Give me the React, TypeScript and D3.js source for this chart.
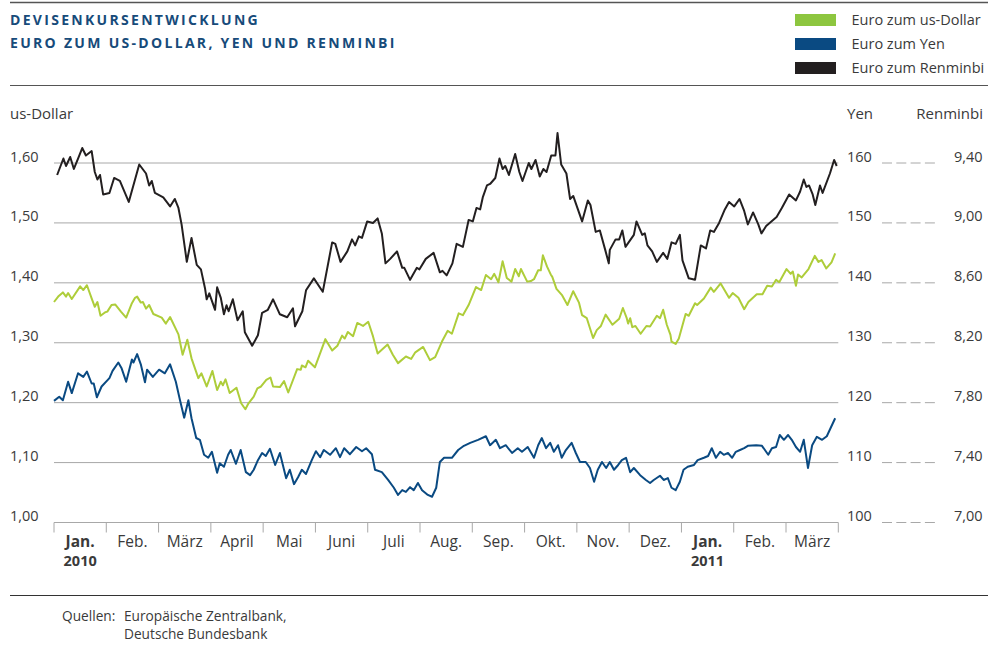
import React from "react";
import * as d3 from "d3";

// time axis: months since 1 Jan 2010 (equal-width months)
const monthLabels = ["Jan.", "Feb.", "März", "April", "Mai", "Juni", "Juli", "Aug.", "Sep.", "Okt.", "Nov.", "Dez.", "Jan.", "Feb.", "März"];
const yearLabels: [number, string][] = [[0, "2010"], [12, "2011"]];

const usdTicks = [1.0, 1.1, 1.2, 1.3, 1.4, 1.5, 1.6];
const yenTicks = [100, 110, 120, 130, 140, 150, 160];
const cnyTicks = [7.0, 7.4, 7.8, 8.2, 8.6, 9.0, 9.4];

const legendItems = ["Euro zum us-Dollar", "Euro zum Yen", "Euro zum Renminbi"];

// Euro zum US-Dollar [month, value]
const usdSeries: [number, number][] = [
  [0.0, 1.368], [0.08, 1.377], [0.17, 1.384], [0.23, 1.377], [0.27, 1.383], [0.34, 1.373], [0.5, 1.394], [0.56, 1.388], [0.63, 1.396], [0.72, 1.374],
  [0.78, 1.36], [0.83, 1.368], [0.89, 1.345], [0.98, 1.351], [1.02, 1.352], [1.1, 1.363], [1.17, 1.364], [1.28, 1.352], [1.38, 1.342], [1.49, 1.366],
  [1.55, 1.375], [1.59, 1.377], [1.66, 1.367], [1.7, 1.368], [1.76, 1.357], [1.82, 1.363], [1.9, 1.348], [2.06, 1.342], [2.14, 1.332], [2.22, 1.343],
  [2.38, 1.314], [2.46, 1.28], [2.55, 1.305], [2.63, 1.274], [2.76, 1.241], [2.82, 1.249], [2.92, 1.227], [3.03, 1.253], [3.08, 1.235], [3.12, 1.221],
  [3.19, 1.235], [3.23, 1.229], [3.28, 1.239], [3.36, 1.216], [3.49, 1.225], [3.58, 1.199], [3.66, 1.189], [3.72, 1.199], [3.82, 1.21], [3.89, 1.224],
  [3.96, 1.227], [4.06, 1.238], [4.14, 1.242], [4.19, 1.227], [4.32, 1.226], [4.4, 1.236], [4.48, 1.217], [4.65, 1.256], [4.72, 1.255], [4.74, 1.262],
  [4.81, 1.259], [4.86, 1.27], [4.99, 1.259], [5.19, 1.306], [5.32, 1.287], [5.42, 1.295], [5.51, 1.312], [5.56, 1.307], [5.62, 1.318], [5.72, 1.311],
  [5.8, 1.333], [5.91, 1.328], [6.01, 1.335], [6.1, 1.311], [6.19, 1.282], [6.38, 1.297], [6.48, 1.28], [6.58, 1.266], [6.73, 1.277], [6.83, 1.273],
  [6.91, 1.284], [7.06, 1.293], [7.19, 1.271], [7.29, 1.276], [7.42, 1.302], [7.53, 1.32], [7.61, 1.315], [7.74, 1.349], [7.82, 1.346], [7.93, 1.363],
  [8.07, 1.393], [8.17, 1.388], [8.26, 1.413], [8.36, 1.406], [8.42, 1.415], [8.5, 1.401], [8.58, 1.436], [8.66, 1.408], [8.75, 1.402], [8.82, 1.423],
  [8.89, 1.411], [8.93, 1.423], [9.05, 1.402], [9.12, 1.403], [9.18, 1.406], [9.26, 1.421], [9.31, 1.421], [9.35, 1.446], [9.43, 1.427], [9.5, 1.414],
  [9.53, 1.41], [9.61, 1.39], [9.72, 1.379], [9.82, 1.363], [9.93, 1.386], [10.04, 1.367], [10.1, 1.346], [10.19, 1.341], [10.31, 1.308], [10.38, 1.321],
  [10.46, 1.328], [10.55, 1.347], [10.68, 1.33], [10.81, 1.34], [10.88, 1.358], [10.95, 1.342], [10.98, 1.332], [11.02, 1.341], [11.06, 1.326], [11.12, 1.328],
  [11.22, 1.315], [11.33, 1.328], [11.4, 1.327], [11.53, 1.345], [11.59, 1.341], [11.65, 1.355], [11.72, 1.33], [11.79, 1.313], [11.81, 1.302], [11.89, 1.298],
  [11.95, 1.307], [12.08, 1.348], [12.14, 1.345], [12.26, 1.366], [12.3, 1.363], [12.43, 1.374], [12.56, 1.392], [12.62, 1.385], [12.75, 1.399], [12.91, 1.375],
  [12.98, 1.383], [13.09, 1.375], [13.2, 1.356], [13.28, 1.368], [13.44, 1.381], [13.55, 1.381], [13.64, 1.395], [13.73, 1.394], [13.81, 1.405], [13.87, 1.401],
  [14.01, 1.423], [14.09, 1.415], [14.13, 1.419], [14.19, 1.395], [14.23, 1.414], [14.3, 1.409], [14.43, 1.423], [14.55, 1.445], [14.62, 1.435], [14.68, 1.438],
  [14.77, 1.424], [14.87, 1.434], [14.94, 1.449],
];

// Euro zum Yen [month, value]
const yenSeries: [number, number][] = [
  [0.0, 120.3], [0.1, 121.0], [0.17, 120.4], [0.27, 123.5], [0.34, 121.6], [0.46, 124.9], [0.56, 124.3], [0.63, 125.2], [0.72, 123.2], [0.76, 123.2],
  [0.82, 120.9], [0.91, 122.7], [1.06, 124.1], [1.12, 125.3], [1.23, 126.7], [1.29, 125.8], [1.38, 123.5], [1.49, 127.2], [1.52, 126.7], [1.59, 128.1],
  [1.66, 126.4], [1.74, 123.4], [1.78, 125.5], [1.89, 124.3], [2.01, 125.5], [2.12, 124.9], [2.22, 126.4], [2.33, 123.5], [2.41, 120.4], [2.49, 117.5],
  [2.57, 120.4], [2.63, 117.4], [2.72, 114.1], [2.79, 113.8], [2.87, 111.3], [2.95, 110.8], [3.02, 111.8], [3.12, 108.3], [3.17, 109.9], [3.25, 109.3],
  [3.33, 111.3], [3.38, 112.1], [3.48, 109.8], [3.57, 112.1], [3.67, 108.4], [3.75, 107.9], [3.82, 108.8], [3.9, 110.4], [3.98, 111.6], [4.05, 111.1],
  [4.13, 112.3], [4.23, 109.6], [4.32, 111.6], [4.44, 107.4], [4.51, 108.8], [4.59, 106.4], [4.67, 107.6], [4.74, 108.8], [4.82, 108.1], [4.93, 110.4],
  [5.01, 111.9], [5.09, 110.9], [5.16, 112.1], [5.28, 111.3], [5.39, 112.4], [5.47, 110.9], [5.55, 112.4], [5.66, 111.4], [5.78, 112.6], [5.89, 111.9],
  [5.97, 112.4], [6.08, 111.4], [6.14, 108.8], [6.27, 108.4], [6.39, 107.1], [6.5, 105.8], [6.58, 104.6], [6.66, 105.4], [6.73, 105.1], [6.81, 105.9],
  [6.88, 105.4], [6.96, 106.6], [7.04, 105.4], [7.15, 104.6], [7.23, 104.3], [7.31, 105.8], [7.38, 110.1], [7.46, 110.8], [7.61, 110.8], [7.73, 112.1],
  [7.84, 112.8], [7.96, 113.3], [8.11, 113.8], [8.26, 114.4], [8.34, 112.9], [8.45, 113.8], [8.53, 112.4], [8.64, 112.9], [8.76, 111.6], [8.87, 112.4],
  [8.95, 111.8], [9.06, 112.6], [9.18, 110.8], [9.26, 112.9], [9.33, 114.1], [9.41, 112.4], [9.49, 113.3], [9.56, 111.8], [9.64, 112.9], [9.71, 110.8],
  [9.79, 112.1], [9.9, 113.3], [9.98, 111.6], [10.06, 110.1], [10.17, 110.1], [10.25, 109.1], [10.33, 106.8], [10.4, 108.8], [10.48, 110.1], [10.56, 109.1],
  [10.63, 110.1], [10.71, 108.8], [10.79, 109.6], [10.86, 110.4], [10.94, 110.8], [11.02, 108.4], [11.09, 109.1], [11.21, 107.9], [11.32, 107.1], [11.4, 106.6],
  [11.47, 107.1], [11.59, 107.8], [11.66, 107.1], [11.74, 107.4], [11.81, 105.8], [11.89, 105.4], [11.97, 106.8], [12.04, 108.8], [12.12, 109.3], [12.24, 109.6],
  [12.31, 110.4], [12.43, 110.8], [12.51, 111.1], [12.58, 112.4], [12.66, 110.8], [12.74, 111.8], [12.81, 111.3], [12.89, 111.6], [12.97, 110.8], [13.04, 111.8],
  [13.12, 112.1], [13.2, 112.4], [13.27, 112.8], [13.43, 112.9], [13.54, 112.8], [13.66, 111.3], [13.73, 112.4], [13.81, 112.6], [13.88, 114.6], [13.96, 113.8],
  [14.04, 114.6], [14.11, 113.8], [14.19, 112.6], [14.27, 111.8], [14.34, 113.8], [14.42, 109.1], [14.5, 112.9], [14.59, 114.3], [14.69, 113.8], [14.78, 114.4],
  [14.94, 117.4],
];

// Euro zum Renminbi [month, value]
const cnySeries: [number, number][] = [
  [0.06, 9.32], [0.18, 9.43], [0.23, 9.38], [0.31, 9.44], [0.38, 9.36], [0.46, 9.43], [0.54, 9.5], [0.61, 9.45], [0.72, 9.48], [0.78, 9.34],
  [0.83, 9.29], [0.88, 9.32], [0.94, 9.19], [1.06, 9.2], [1.15, 9.3], [1.26, 9.28], [1.43, 9.14], [1.55, 9.29], [1.63, 9.39], [1.76, 9.33],
  [1.82, 9.25], [1.87, 9.28], [1.93, 9.2], [2.09, 9.17], [2.22, 9.11], [2.31, 9.16], [2.38, 9.1], [2.44, 8.99], [2.54, 8.74], [2.63, 8.9],
  [2.73, 8.72], [2.81, 8.69], [2.89, 8.56], [2.92, 8.49], [2.97, 8.53], [3.08, 8.42], [3.12, 8.57], [3.19, 8.5], [3.25, 8.39], [3.3, 8.45],
  [3.34, 8.41], [3.42, 8.49], [3.51, 8.35], [3.61, 8.41], [3.65, 8.27], [3.79, 8.18], [3.9, 8.25], [3.98, 8.4], [4.09, 8.42], [4.19, 8.49],
  [4.32, 8.39], [4.46, 8.37], [4.57, 8.43], [4.61, 8.31], [4.75, 8.41], [4.82, 8.55], [4.97, 8.63], [5.14, 8.54], [5.32, 8.87], [5.38, 8.86],
  [5.48, 8.74], [5.61, 8.81], [5.7, 8.89], [5.76, 8.85], [5.83, 8.91], [5.89, 8.9], [5.99, 9.01], [6.1, 9.0], [6.19, 9.03], [6.27, 8.93],
  [6.34, 8.73], [6.43, 8.76], [6.56, 8.81], [6.66, 8.7], [6.7, 8.7], [6.81, 8.62], [6.94, 8.7], [6.99, 8.69], [7.11, 8.76], [7.26, 8.8],
  [7.38, 8.67], [7.43, 8.68], [7.51, 8.65], [7.62, 8.73], [7.7, 8.86], [7.82, 8.84], [7.93, 9.02], [8.01, 9.01], [8.08, 9.1], [8.15, 9.09],
  [8.2, 9.17], [8.28, 9.25], [8.34, 9.26], [8.44, 9.3], [8.52, 9.43], [8.58, 9.36], [8.63, 9.38], [8.7, 9.32], [8.82, 9.46], [8.9, 9.34],
  [8.96, 9.28], [9.08, 9.4], [9.13, 9.36], [9.21, 9.42], [9.29, 9.31], [9.36, 9.36], [9.42, 9.34], [9.51, 9.45], [9.59, 9.45], [9.63, 9.6],
  [9.66, 9.51], [9.7, 9.39], [9.8, 9.33], [9.87, 9.16], [9.93, 9.18], [10.1, 9.01], [10.21, 9.15], [10.26, 9.12], [10.36, 8.94], [10.44, 8.95],
  [10.55, 8.81], [10.61, 8.73], [10.63, 8.82], [10.74, 8.89], [10.81, 8.89], [10.87, 8.95], [10.93, 8.84], [11.09, 8.92], [11.14, 9.01], [11.25, 8.92],
  [11.3, 8.93], [11.35, 8.85], [11.44, 8.81], [11.53, 8.74], [11.65, 8.8], [11.73, 8.76], [11.81, 8.87], [11.89, 8.86], [11.97, 8.92], [12.02, 8.75],
  [12.14, 8.63], [12.26, 8.62], [12.37, 8.85], [12.47, 8.83], [12.55, 8.95], [12.62, 8.94], [12.72, 9.0], [12.83, 9.09], [12.91, 9.14], [13.01, 9.11],
  [13.11, 9.16], [13.2, 9.08], [13.27, 8.99], [13.37, 9.07], [13.47, 8.99], [13.53, 8.93], [13.62, 8.98], [13.82, 9.04], [13.92, 9.1], [14.06, 9.19],
  [14.19, 9.15], [14.27, 9.21], [14.34, 9.29], [14.39, 9.24], [14.44, 9.25], [14.51, 9.19], [14.56, 9.12], [14.65, 9.25], [14.7, 9.2], [14.84, 9.33],
  [14.92, 9.42], [14.97, 9.38],
];

const W = 988;
const H = 650;
const FONT = "'Open Sans', 'Noto Sans', sans-serif";
const TEXT = "#3a3a3a";
const TITLE = "#174b7a";
const GREEN = "#aecd3a";
const GREEN_SW = "#8dc63f";
const BLUE = "#0a4a82";
const BLACK = "#231f20";
const GRID = "#a8a8a8";

const X0 = 54;
const X1 = 838.3;
const YB = 522.5;
const YT = 163;

export default function App() {
  const x = d3.scaleLinear().domain([0, 15]).range([X0, X1]);
  const yUsd = d3.scaleLinear().domain([1.0, 1.6]).range([YB, YT]);
  const yYen = d3.scaleLinear().domain([100, 160]).range([YB, YT]);
  const yCny = d3.scaleLinear().domain([7.0, 9.4]).range([YB, YT]);

  const fmt2 = (v: number) => d3.format(".2f")(v).replace(".", ",");

  const lineUsd = d3.line<[number, number]>().x((d) => x(d[0])).y((d) => yUsd(d[1]));
  const lineYen = d3.line<[number, number]>().x((d) => x(d[0])).y((d) => yYen(d[1]));
  const lineCny = d3.line<[number, number]>().x((d) => x(d[0])).y((d) => yCny(d[1]));

  const monthTicks = d3.range(0, monthLabels.length + 1);
  const swatchColors = [GREEN_SW, BLUE, BLACK];

  return (
    <div style={{ position: "absolute", left: 0, top: 0 }}>
      <svg width={W} height={H} style={{ display: "block", background: "#fff" }} fontFamily={FONT}>
        {/* top rules */}
        <line x1={10} x2={W} y1={2.5} y2={2.5} stroke="#555" strokeWidth={1.5} />
        <line x1={10} x2={W} y1={85.5} y2={85.5} stroke="#555" strokeWidth={1} />
        <line x1={10} x2={W} y1={595.5} y2={595.5} stroke="#333" strokeWidth={1} />

        {/* title */}
        <text x={10} y={25} fill={TITLE} fontSize={14} fontWeight={700} letterSpacing={2.3}>DEVISENKURSENTWICKLUNG</text>
        <text x={10} y={48} fill={TITLE} fontSize={14} fontWeight={700} letterSpacing={2.3}>EURO ZUM US-DOLLAR, YEN UND RENMINBI</text>

        {/* legend */}
        {legendItems.map((label, i) => (
          <g key={label}>
            <rect x={795} y={14 + i * 24} width={41} height={12} fill={swatchColors[i]} />
            <text x={851.5} y={25 + i * 24} fill={TEXT} fontSize={14.5}>{label}</text>
          </g>
        ))}

        {/* axis titles */}
        <text x={10} y={119} fill={TEXT} fontSize={15}>us-Dollar</text>
        <text x={847} y={119} fill={TEXT} fontSize={15}>Yen</text>
        <text x={983} y={119} fill={TEXT} fontSize={15} textAnchor="end">Renminbi</text>

        {/* gridlines & left labels */}
        {usdTicks.map((t) => (
          <g key={"u" + t}>
            <line x1={X0} x2={X1} y1={yUsd(t)} y2={yUsd(t)} stroke={GRID} strokeWidth={1} />
            <text x={10} y={yUsd(t) - 1.5} fill={TEXT} fontSize={14.5}>{fmt2(t)}</text>
          </g>
        ))}
        {/* right labels */}
        {yenTicks.map((t, i) => (
          <g key={"y" + t}>
            <text x={847} y={yYen(t) - 1.5} fill={TEXT} fontSize={14.5}>{t}</text>
            <line x1={882} x2={935} y1={yYen(t)} y2={yYen(t)} stroke={GRID} strokeWidth={1} strokeDasharray="10,4.3" />
            <text x={982.5} y={yCny(cnyTicks[i]) - 1.5} fill={TEXT} fontSize={14.5} textAnchor="end">{fmt2(cnyTicks[i])}</text>
          </g>
        ))}

        {/* bottom axis ticks */}
        {monthTicks.map((m) => (
          <line key={"mt" + m} x1={x(m)} x2={x(m)} y1={YB} y2={YB + 10} stroke={GRID} strokeWidth={1} />
        ))}
        {monthLabels.map((lab, i) => {
          const bold = yearLabels.some((yl) => yl[0] === i);
          return (
            <text key={"ml" + i} x={x(i + 0.5)} y={547} fill={TEXT} fontSize={15.5} textAnchor="middle" fontWeight={bold ? 700 : 400}>{lab}</text>
          );
        })}
        {yearLabels.map(([m, lab]) => (
          <text key={"yl" + lab} x={x(m + 0.5)} y={566} fill={TEXT} fontSize={14.5} textAnchor="middle" fontWeight={700}>{lab}</text>
        ))}

        {/* series */}
        <path d={lineUsd(usdSeries) || ""} fill="none" stroke={GREEN} strokeWidth={2} strokeLinejoin="round" />
        <path d={lineYen(yenSeries) || ""} fill="none" stroke={BLUE} strokeWidth={2} strokeLinejoin="round" />
        <path d={lineCny(cnySeries) || ""} fill="none" stroke={BLACK} strokeWidth={2} strokeLinejoin="round" />

        {/* footer */}
        <text x={62} y={621} fill={TEXT} fontSize={13.7}>Quellen:</text>
        <text x={124} y={621} fill={TEXT} fontSize={13.7}>Europäische Zentralbank,</text>
        <text x={124} y={639} fill={TEXT} fontSize={13.7}>Deutsche Bundesbank</text>
      </svg>
    </div>
  );
}
